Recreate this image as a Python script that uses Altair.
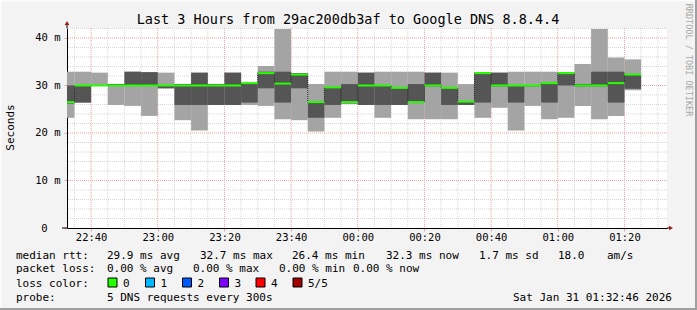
import altair as alt
import pandas as pd

# ---------------- data ----------------
times = ["22:30", "22:35", "22:40", "22:45", "22:50", "22:55", "23:00", "23:05", "23:10",
         "23:15", "23:20", "23:25", "23:30", "23:35", "23:40", "23:45", "23:50", "23:55",
         "00:00", "00:05", "00:10", "00:15", "00:20", "00:25", "00:30", "00:35", "00:40",
         "00:45", "00:50", "00:55", "01:00", "01:05", "01:10", "01:15", "01:20"]
light_lo = [23.2, 26.4, 30.0, 25.9, 25.7, 23.6, 29.4, 22.7, 20.5,
            25.9, 25.9, 25.9, 25.7, 22.9, 22.7, 20.3, 23.2, 26.2,
            25.9, 23.2, 25.9, 22.9, 22.9, 22.9, 25.9, 23.2, 25.3,
            20.5, 25.7, 22.9, 23.2, 25.7, 22.9, 23.6, 29.0]
dark_lo = [26.2, 26.4, 30.0, 30.0, 30.0, 30.0, 29.4, 25.9, 25.9,
           25.9, 25.9, 26.4, 29.4, 26.4, 29.4, 23.2, 25.9, 26.2,
           25.9, 25.9, 25.9, 26.3, 29.8, 25.9, 25.9, 26.4, 29.8,
           26.4, 29.8, 26.4, 30.0, 29.8, 29.8, 26.4, 29.3]
median = [26.5, 30.0, 30.0, 30.0, 30.0, 30.0, 30.0, 30.0, 30.0,
          30.0, 30.0, 30.5, 32.6, 30.4, 32.3, 26.5, 29.6, 26.5,
          30.0, 30.0, 29.5, 26.5, 30.0, 29.5, 26.6, 32.6, 30.0,
          30.0, 30.0, 30.5, 32.6, 30.0, 30.0, 30.5, 32.3]
dark_hi = [30.0, 30.0, 30.0, 30.3, 32.9, 32.8, 30.0, 30.3, 32.7,
           30.3, 32.7, 30.5, 32.9, 32.9, 32.6, 26.5, 29.6, 30.3,
           32.7, 30.0, 29.5, 30.3, 32.7, 29.5, 26.6, 32.7, 32.7,
           30.0, 30.0, 30.5, 32.7, 30.3, 32.9, 32.9, 32.3]
light_hi = [32.9, 32.9, 32.7, 30.3, 32.9, 32.8, 32.7, 30.3, 32.7,
            30.3, 32.7, 30.5, 34.1, 41.9, 32.6, 30.3, 32.9, 32.9,
            32.7, 32.9, 32.9, 32.9, 32.7, 32.7, 30.3, 32.7, 32.7,
            32.9, 32.9, 32.9, 32.7, 34.5, 41.9, 35.9, 35.5]

view_start = "22:32:46"
x_tick_labels = ["22:40", "23:00", "23:20", "23:40", "00:00", "00:20", "00:40", "01:00", "01:20"]
y_tick_values = [0, 10, 20, 30, 40]
y_tick_labels = ["0", "10 m", "20 m", "30 m", "40 m"]

title_text = "Last 3 Hours from 29ac200db3af to Google DNS 8.8.4.4"
y_title = "Seconds"
side_text = "RRDTOOL / TOBI OETIKER"
row1 = [("median rtt:", 16), ("29.9 ms avg", 107), ("32.7 ms max", 200), ("26.4 ms min", 292),
        ("32.3 ms now", 386), ("1.7 ms sd", 479), ("18.0", 558), ("am/s", 607)]
row2 = [("packet loss:", 16), ("0.00 % avg", 107), ("0.00 % max", 193), ("0.00 % min", 279),
        ("0.00 % now", 353)]
loss_labels = ["0", "1", "2", "3", "4", "5/5"]
loss_colors = ["#26ff00", "#00b8ff", "#0059ff", "#7e00ff", "#ff0000", "#a10000"]
probe_text = "5 DNS requests every 300s"
stamp_text = "Sat Jan 31 01:32:46 2026"

# ---------------- helpers ----------------
BASE = 22 * 60 + 30


def to_min(t):
    parts = [int(p) for p in t.split(":")]
    h, m = parts[0], parts[1]
    s = parts[2] if len(parts) > 2 else 0
    v = h * 60 + m + s / 60.0
    if h < 12:
        v += 1440
    return v - BASE


vs = to_min(view_start)
ve = vs + 180
t0 = [to_min(t) for t in times]
df = pd.DataFrame({
    "t0": t0, "t1": [t + 5 for t in t0],
    "llo": light_lo, "lhi": light_hi, "dlo": dark_lo, "dhi": dark_hi, "med": median,
})

x_major = [to_min(t) for t in x_tick_labels]
x_minor = [v for v in range(5, 181, 5) if v not in x_major]
y_major = [10, 20, 30, 40]
y_minor = [v for v in range(2, 43, 2) if v % 10 != 0]

xs = alt.Scale(domain=[vs, ve], nice=False, zero=False)
ys = alt.Scale(domain=[0, 42.1], nice=False, zero=False)

FONT = "DejaVu Sans Mono"
MAJ = "#f2a2a2"
MIN = "#d6d6d6"

x_expr = " : ".join(f"datum.value == {v} ? '{l}'" for v, l in zip(x_major, x_tick_labels)) + " : ''"
y_expr = " : ".join(f"datum.value == {v} ? '{l}'" for v, l in zip(y_tick_values, y_tick_labels)) + " : ''"

xaxis = alt.Axis(values=x_major, labelExpr=x_expr, title=None, grid=False,
                 domainColor="#000", domainWidth=1, tickColor=MAJ, tickSize=3,
                 labelFont=FONT, labelFontSize=10.5, labelColor="#000", labelPadding=1,
                 labelFlush=False)
yaxis = alt.Axis(values=y_tick_values, labelExpr=y_expr, title=None, grid=False,
                 domainColor="#000", domainWidth=1, tickColor=MAJ, tickSize=3,
                 labelFont=FONT, labelFontSize=10.5, labelColor="#000",
                 labelPadding={"condition": {"test": "datum.value == 0", "value": 17}, "value": 4},
                 labelFlush=False)


def X(f):
    return alt.X(f, type="quantitative", scale=xs, axis=xaxis)


def Y(f):
    return alt.Y(f, type="quantitative", scale=ys, axis=yaxis)


OX, OY = 67, 28  # plot origin inside the 697x310 image
one = alt.Data(values=[{"a": 1}])


def txt(s, x, y, size=11, color="#000", align="left", angle=0, baseline="alphabetic"):
    kw = dict(text=s, font=FONT, fontSize=size, color=color, align=align, baseline=baseline)
    if angle:
        kw["angle"] = angle
    return alt.Chart(one).mark_text(**kw).encode(x=alt.value(x - OX), y=alt.value(y - OY))


def box(x1, x2, y1, y2, fill, stroke=None):
    kw = dict(fill=fill)
    if stroke:
        kw.update(stroke=stroke, strokeWidth=1)
    return alt.Chart(one).mark_rect(**kw).encode(
        x=alt.value(x1 - OX), x2=alt.value(x2 - OX), y=alt.value(y1 - OY), y2=alt.value(y2 - OY))


layers = []
# grid
layers.append(alt.Chart(pd.DataFrame({"v": y_minor})).mark_rule(color=MIN, strokeDash=[1, 1]).encode(y=Y("v")))
layers.append(alt.Chart(pd.DataFrame({"v": x_minor})).mark_rule(color=MIN, strokeDash=[1, 1]).encode(x=X("v")))
layers.append(alt.Chart(pd.DataFrame({"v": y_major})).mark_rule(color=MAJ, strokeDash=[1, 1]).encode(y=Y("v")))
layers.append(alt.Chart(pd.DataFrame({"v": x_major})).mark_rule(color=MAJ, strokeDash=[1, 1]).encode(x=X("v")))
# smoke
layers.append(alt.Chart(df).mark_rect(color="#a4a4a4", clip=True).encode(
    x=X("t0"), x2="t1", y=Y("llo"), y2="lhi"))
layers.append(alt.Chart(df).mark_rect(color="#555555", clip=True).encode(
    x=X("t0"), x2="t1", y=Y("dlo"), y2="dhi"))
# step connectors
layers.append(alt.Chart(df).mark_line(interpolate="step-after", color="#111", strokeWidth=1,
                                      strokeDash=[1, 1], clip=True).encode(x=X("t0"), y=Y("med")))
# median
layers.append(alt.Chart(df).mark_rule(color=loss_colors[0], strokeWidth=2, clip=True).encode(
    x=X("t0"), x2="t1", y=Y("med")))

# axis extensions and arrows
layers.append(alt.Chart(one).mark_rule(color="#000").encode(
    x=alt.value(0), y=alt.value(-4), y2=alt.value(0)))
layers.append(alt.Chart(one).mark_rule(color="#000").encode(
    x=alt.value(-5), x2=alt.value(0), y=alt.value(200)))
layers.append(alt.Chart(one).mark_rule(color="#000").encode(
    x=alt.value(600), x2=alt.value(603), y=alt.value(200)))
layers.append(alt.Chart(one).mark_point(shape="triangle-up", filled=True, size=22, color="#9b1c1c", opacity=1).encode(
    x=alt.value(0), y=alt.value(-5)))
layers.append(alt.Chart(one).mark_point(shape="triangle-right", filled=True, size=22, color="#9b1c1c", opacity=1).encode(
    x=alt.value(604), y=alt.value(200)))

# texts
layers.append(txt(title_text, 348, 24, size=13.5, align="center"))
layers.append(txt(y_title, 11, 127.5, size=11, align="center", angle=270, baseline="middle"))
layers.append(txt(side_text, 688.5, 60, size=8.5, color="#a8a8a8", align="center", angle=90, baseline="middle"))
for s, x in row1:
    layers.append(txt(s.replace(" ", "\u00a0"), x, 258.5))
for s, x in row2:
    layers.append(txt(s.replace(" ", "\u00a0"), x, 272))
layers.append(txt("loss color:".replace(" ", "\u00a0"), 16, 286.5))
sq_x = [108, 145.5, 182.5, 219.5, 256, 293]
for lab, col, sx in zip(loss_labels, loss_colors, sq_x):
    layers.append(box(sx, sx + 9, 278, 287, col, stroke="#000"))
    layers.append(txt(lab, sx + 15, 286.5))
layers.append(txt("probe:", 16, 300.5))
layers.append(txt(probe_text.replace(" ", "\u00a0"), 107, 300.5))
layers.append(txt(stamp_text.replace(" ", "\u00a0"), 513, 300.5))

# frame edges
layers.append(box(0, 697, 0, 1.5, "#fcfcfc"))
layers.append(box(0, 1.5, 0, 310, "#fcfcfc"))
layers.append(box(695, 697, 0, 310, "#9f9f9f"))
layers.append(box(0, 697, 308, 310, "#9f9f9f"))

chart = alt.layer(*layers).properties(
    width=600, height=200,
    padding={"left": OX, "top": OY, "right": 697 - OX - 600, "bottom": 310 - OY - 200},
    autosize=alt.AutoSizeParams(type="none"),
    background="#f3f3f3",
).configure_view(fill="white", stroke=None)

chart.save("out.html", embed_options={"renderer": "svg", "actions": False})
